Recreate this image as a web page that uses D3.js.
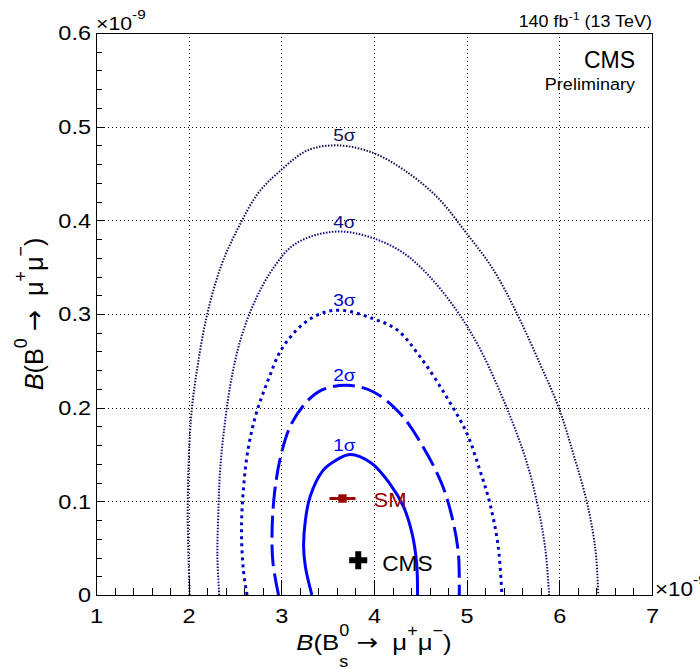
<!DOCTYPE html>
<html>
<head>
<meta charset="utf-8">
<script src="https://cdn.jsdelivr.net/npm/d3@7"></script>
<style>
  body { margin: 0; background: #fff; }
  svg { display: block; }
  text { font-family: "Liberation Sans", Arial, Helvetica, sans-serif; }
</style>
</head>
<body>
<svg id="chart" width="700" height="669"></svg>
<script>
// Axis ranges (units of 1e-9) and tick labels
const xDomain = [1, 7];
const yDomain = [0, 0.6];
const xTicks = [1, 2, 3, 4, 5, 6, 7];
const xTickLabels = ["1", "2", "3", "4", "5", "6", "7"];
const yTicks = [0, 0.1, 0.2, 0.3, 0.4, 0.5, 0.6];
const yTickLabels = ["0", "0.1", "0.2", "0.3", "0.4", "0.5", "0.6"];

// Likelihood contours: [B(Bs->mumu), B(B0->mumu)] in units of 1e-9
const sigma1 = [[3.33,0],[3.26,0.030],[3.24,0.052],[3.26,0.080],[3.31,0.105],[3.45,0.133],[3.56,0.142],[3.74,0.150],[3.97,0.141],[4.17,0.119],[4.32,0.094],[4.41,0.066],[4.46,0.034],[4.47,0]];
const sigma2 = [[2.97,0],[2.91,0.034],[2.90,0.069],[2.93,0.112],[3.00,0.151],[3.11,0.183],[3.29,0.208],[3.44,0.219],[3.71,0.224],[3.99,0.217],[4.28,0.194],[4.53,0.158],[4.73,0.119],[4.84,0.084],[4.91,0.045],[4.92,0]];
const sigma3 = [[2.63,0],[2.59,0.027],[2.57,0.069],[2.59,0.112],[2.64,0.155],[2.73,0.194],[2.86,0.230],[3.00,0.262],[3.22,0.288],[3.44,0.301],[3.65,0.304],[3.99,0.295],[4.25,0.283],[4.50,0.254],[4.78,0.212],[5.00,0.173],[5.14,0.134],[5.25,0.098],[5.34,0.052],[5.38,0]];
const sigma4 = [[2.33,0],[2.31,0.041],[2.32,0.087],[2.34,0.134],[2.39,0.183],[2.46,0.230],[2.57,0.276],[2.72,0.315],[2.90,0.347],[3.11,0.372],[3.36,0.384],[3.65,0.388],[3.99,0.381],[4.32,0.365],[4.60,0.340],[4.89,0.304],[5.11,0.269],[5.32,0.226],[5.50,0.183],[5.65,0.141],[5.77,0.094],[5.85,0.048],[5.89,0]];
const sigma5 = [[2.01,0],[2.00,0.034],[1.99,0.087],[2.00,0.141],[2.03,0.194],[2.10,0.247],[2.21,0.304],[2.36,0.354],[2.54,0.393],[2.75,0.429],[3.00,0.454],[3.29,0.475],[3.62,0.480],[3.99,0.472],[4.32,0.454],[4.68,0.425],[5.00,0.386],[5.29,0.347],[5.54,0.301],[5.79,0.247],[5.99,0.201],[6.15,0.151],[6.30,0.098],[6.39,0.048],[6.42,0]];
const contourLabels = ["1σ", "2σ", "3σ", "4σ", "5σ"];
const labelX = 3.68;

// Reference points
const smPoint = [3.66, 0.103];
const smRange = [3.52, 3.80];
const cmsPoint = [3.83, 0.037];

// Styling per contour level
const contourStyles = [
  { color: "#0000ff", width: 3,   dash: null },
  { color: "#0000ff", width: 3,   dash: "22,7" },
  { color: "#0000cc", width: 3,   dash: "3,4" },
  { color: "#101080", width: 2,   dash: "1.5,1.5" },
  { color: "#101050", width: 2,   dash: "1.5,1.5" }
];
const contours = [sigma1, sigma2, sigma3, sigma4, sigma5];

const svg = d3.select("#chart");
svg.append("rect").attr("width", 700).attr("height", 669).attr("fill", "#fff");

const L = 96, R = 652, T = 33, B = 595;
const x = d3.scaleLinear().domain(xDomain).range([L, R]);
const y = d3.scaleLinear().domain(yDomain).range([B, T]);

// Text is drawn slightly wide, like the Helvetica rendering of the original style
const TEXT_SX = 1.12;

// Rich text built from pieces (sub/superscripts, italic), measured as they are laid out
function richText(parent, pieces, o) {
  const sx = o.sx || TEXT_SX, sy = o.sy || 1;
  const g = parent.append("g").attr("transform", `translate(${o.x},${o.y}) rotate(${o.rotate || 0})`);
  const inner = g.append("g");
  let cx = 0, prevX = 0;
  pieces.forEach(p => {
    const s = o.size * (p.scale || 1);
    const px = p.stack ? prevX : cx;
    const t = inner.append("text")
      .attr("x", px).attr("y", p.dy || 0)
      .attr("font-size", s)
      .attr("fill", p.fill || o.fill || "#000")
      .attr("font-style", p.italic ? "italic" : null)
      .style("font-family", p.font || null)
      .text(p.t);
    const w = t.node().getComputedTextLength();
    prevX = px;
    cx = Math.max(cx, px + w);
  });
  const shift = o.anchor === "end" ? -cx : o.anchor === "middle" ? -cx / 2 : 0;
  inner.attr("transform", `translate(${shift * sx},0) scale(${sx},${sy})`);
  return g;
}

// Horizontally widened plain text anchored at (x, y)
function wideText(parent, str, o) {
  return richText(parent, [{ t: str }], o);
}

// Grid
const grid = svg.append("g").attr("stroke", "#000").attr("stroke-width", 1)
  .attr("stroke-dasharray", "1,3").attr("shape-rendering", "crispEdges");
grid.selectAll(".gx").data(xTicks.slice(1, -1)).join("line")
  .attr("x1", d => Math.round(x(d)) + 0.5).attr("x2", d => Math.round(x(d)) + 0.5)
  .attr("y1", T).attr("y2", B);
grid.selectAll(".gy").data(yTicks.slice(1, -1)).join("line")
  .attr("y1", d => Math.round(y(d)) + 0.5).attr("y2", d => Math.round(y(d)) + 0.5)
  .attr("x1", L).attr("x2", R);

// Contours
svg.append("clipPath").attr("id", "plotclip")
  .append("rect").attr("x", L).attr("y", T).attr("width", R - L).attr("height", B - T);
const line = d3.line().x(d => x(d[0])).y(d => y(d[1])).curve(d3.curveCatmullRom.alpha(0.5));
const cg = svg.append("g").attr("clip-path", "url(#plotclip)");
contours.forEach((c, i) => {
  const st = contourStyles[i];
  cg.append("path").attr("d", line(c)).attr("fill", "none")
    .attr("stroke", st.color).attr("stroke-width", st.width)
    .attr("stroke-dasharray", st.dash);
});
contours.forEach((c, i) => {
  const top = d3.max(c, d => d[1]);
  wideText(svg, contourLabels[i], { x: x(labelX), y: y(top) - 4, size: 17, anchor: "middle", fill: contourStyles[i].color });
});

// SM point with its uncertainty
svg.append("line").attr("x1", x(smRange[0])).attr("x2", x(smRange[1]))
  .attr("y1", y(smPoint[1])).attr("y2", y(smPoint[1]))
  .attr("stroke", "#990000").attr("stroke-width", 3);
svg.append("path").attr("d", d3.symbol(d3.symbolSquare, 70)())
  .attr("transform", `translate(${x(smPoint[0])},${y(smPoint[1])})`).attr("fill", "#990000");
wideText(svg, "SM", { x: x(smPoint[0]) + 31, y: y(smPoint[1]) + 8, size: 21, fill: "#990000", sx: 1.05 });

// CMS measurement
svg.append("path").attr("d", d3.symbol(d3.symbolCross, 180)())
  .attr("transform", `translate(${x(cmsPoint[0])},${y(cmsPoint[1])})`).attr("fill", "#000");
wideText(svg, "CMS", { x: x(cmsPoint[0]) + 24, y: y(cmsPoint[1]) + 11, size: 22, sx: 1.03 });

// Axes
const tickFont = 21;
const xAxis = svg.append("g").attr("transform", `translate(0,${B})`)
  .call(d3.axisBottom(x).tickValues(xTicks).tickSizeInner(-15).tickSizeOuter(0).tickPadding(13)
    .tickFormat((d, i) => xTickLabels[i]));
const xMinor = svg.append("g").attr("transform", `translate(0,${B})`)
  .call(d3.axisBottom(x).tickValues(d3.range(1, 7.001, 0.2).filter(v => Math.abs(v - Math.round(v)) > 1e-6))
    .tickSizeInner(-7).tickSizeOuter(0).tickFormat(""));
const yAxis = svg.append("g").attr("transform", `translate(${L},0)`)
  .call(d3.axisLeft(y).tickValues(yTicks).tickSizeInner(-8).tickSizeOuter(0).tickPadding(5)
    .tickFormat((d, i) => yTickLabels[i]));
const yMinor = svg.append("g").attr("transform", `translate(${L},0)`)
  .call(d3.axisLeft(y).tickValues(d3.range(0, 0.6001, 0.02).filter(v => Math.abs(v * 10 - Math.round(v * 10)) > 1e-6))
    .tickSizeInner(-6).tickSizeOuter(0).tickFormat(""));
[xAxis, xMinor, yAxis, yMinor].forEach(a => {
  a.select(".domain").remove();
  a.selectAll("line").attr("stroke", "#000").attr("shape-rendering", "crispEdges");
  a.selectAll("text").attr("font-size", tickFont).attr("font-family", null).attr("fill", "#000")
    .attr("transform", function () {
      const tx = +this.getAttribute("x") || 0;
      return `translate(${tx * (1 - TEXT_SX)},0) scale(${TEXT_SX},1)`;
    });
});

// Frame
svg.append("rect").attr("x", L + 0.5).attr("y", T + 0.5).attr("width", R - L).attr("height", B - T)
  .attr("fill", "none").attr("stroke", "#000").attr("shape-rendering", "crispEdges");

// Exponent labels
richText(svg, [{ t: "×10" }, { t: "-9", scale: 0.72, dy: -11 }], { x: L, y: 30, size: 19 });
richText(svg, [{ t: "×10" }, { t: "-9", scale: 0.72, dy: -11 }], { x: R + 3, y: B + 1, size: 20 });

// Axis titles
const supDy = -14;
richText(svg, [
  { t: "B", italic: true }, { t: "(B" },
  { t: "0", scale: 0.7, dy: supDy }, { t: "s", scale: 0.7, dy: 17, stack: true },
  { t: "\u00a0" }, { t: "→", font: "DejaVu Sans" }, { t: "\u00a0\u00a0μ" }, { t: "+", scale: 0.7, dy: supDy },
  { t: "μ" }, { t: "−", scale: 0.7, dy: supDy }, { t: ")" }
], { x: (L + R) / 2, y: 650, size: 23, anchor: "middle", sx: 1.12 });

richText(svg, [
  { t: "B", italic: true }, { t: "(B" },
  { t: "0", scale: 0.7, dy: supDy },
  { t: "\u00a0" }, { t: "→", font: "DejaVu Sans" }, { t: "\u00a0\u00a0μ" }, { t: "+", scale: 0.7, dy: supDy },
  { t: "μ" }, { t: "−", scale: 0.7, dy: supDy }, { t: ")" }
], { x: 43, y: (T + B) / 2, size: 23, anchor: "middle", rotate: -90, sx: 1.1, sy: 1.15 });

// Luminosity and experiment labels
richText(svg, [
  { t: "140 fb" }, { t: "-1", scale: 0.7, dy: -7 }, { t: "\u00a0(13 TeV)" }
], { x: R, y: 27, size: 16, anchor: "end", sx: 1.12 });
wideText(svg, "CMS", { x: 635, y: 68, size: 23, anchor: "end", sx: 1.0 });
wideText(svg, "Preliminary", { x: 635, y: 90, size: 17, anchor: "end", sx: 1.06 });
</script>
</body>
</html>
